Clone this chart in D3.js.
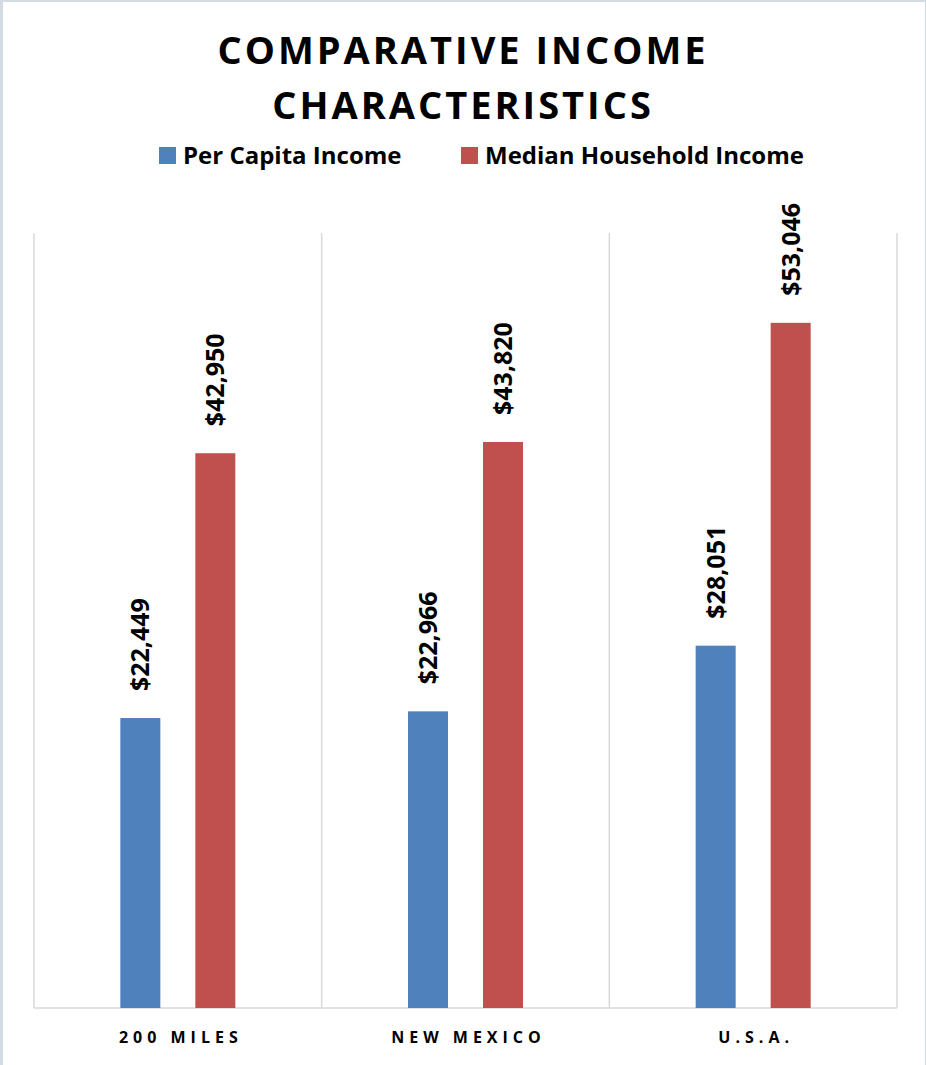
<!DOCTYPE html>
<html><head><meta charset="utf-8">
<script src="https://cdn.jsdelivr.net/npm/d3@7/dist/d3.min.js"></script>
<style>html,body{margin:0;padding:0;background:#fff;}svg{display:block;}</style>
</head><body>
<script>
const categories = ["200 MILES", "NEW MEXICO", "U.S.A."];
const seriesNames = ["Per Capita Income", "Median Household Income"];
const perCapita = [22449, 22966, 28051];
const medianHousehold = [42950, 43820, 53046];
const colors = ["#4F81BD", "#C0504D"];

const W = 926, H = 1065;
const svg = d3.select("body").append("svg").attr("width", W).attr("height", H);

// outer frame
svg.append("rect").attr("x", 0).attr("y", 0).attr("width", W).attr("height", H).attr("fill", "#fff");
svg.append("rect").attr("x", 0).attr("y", 0).attr("width", 3).attr("height", H).attr("fill", "#d3dae1");
svg.append("rect").attr("x", 0).attr("y", 0).attr("width", W).attr("height", 2).attr("fill", "#d3dae1");
svg.append("rect").attr("x", W - 1).attr("y", 0).attr("width", 1).attr("height", H).attr("fill", "#d3dae1");

const plot = {left: 34, right: 897, top: 233, bottom: 1008};

const x0 = d3.scaleBand().domain(categories).range([plot.left, plot.right]).paddingInner(0).paddingOuter(0);
const y = d3.scaleLinear().domain([0, 60000]).range([plot.bottom, plot.top]);

// vertical gridlines at category boundaries
const bounds = categories.map(c => x0(c)).concat([x0(categories[categories.length - 1]) + x0.bandwidth()]);
svg.selectAll("line.grid").data(bounds).enter().append("line")
  .attr("x1", d => d).attr("x2", d => d)
  .attr("y1", plot.top).attr("y2", plot.bottom)
  .attr("stroke", "#d9d9d9").attr("stroke-width", 1.5);
svg.append("line").attr("x1", plot.left).attr("x2", plot.right)
  .attr("y1", plot.bottom).attr("y2", plot.bottom)
  .attr("stroke", "#d9d9d9").attr("stroke-width", 1.5);

const barW = 40, gap = 35;
const data = categories.map((c, i) => ({c, vals: [perCapita[i], medianHousehold[i]]}));

data.forEach(d => {
  const cx = x0(d.c) + x0.bandwidth() / 2;
  d.vals.forEach((v, j) => {
    const bx = cx - (barW * 2 + gap) / 2 + j * (barW + gap);
    svg.append("rect")
      .attr("x", bx).attr("y", y(v))
      .attr("width", barW).attr("height", y(0) - y(v))
      .attr("fill", colors[j]);
    svg.append("text")
      .attr("transform", `translate(${bx + barW / 2 + 9},${y(v) - 27}) rotate(-90)`)
      .attr("text-anchor", "start")
      .attr("font-family", "Open Sans")
      .attr("font-weight", "bold")
      .attr("font-size", 25)
      .attr("fill", "#000")
      .text(d3.format("$,")(v));
  });
});

// x axis labels
svg.selectAll("text.cat").data(categories).enter().append("text")
  .attr("x", d => x0(d) + x0.bandwidth() / 2 + 3)
  .attr("y", 1043)
  .attr("text-anchor", "middle")
  .attr("font-family", "Open Sans")
  .attr("font-weight", "bold")
  .attr("font-size", 16)
  .attr("letter-spacing", 5)
  .attr("fill", "#000")
  .text(d => d);

// title
const title = ["COMPARATIVE INCOME", "CHARACTERISTICS"];
svg.selectAll("text.title").data(title).enter().append("text")
  .attr("x", 463).attr("y", (d, i) => 64 + i * 55)
  .attr("text-anchor", "middle")
  .attr("font-family", "Open Sans")
  .attr("font-weight", "bold")
  .attr("font-size", 38)
  .attr("letter-spacing", 3)
  .attr("fill", "#000")
  .text(d => d);

// legend
const legendX = [159, 461];
seriesNames.forEach((s, i) => {
  svg.append("rect").attr("x", legendX[i]).attr("y", 147).attr("width", 17).attr("height", 17).attr("fill", colors[i]);
  svg.append("text").attr("x", legendX[i] + 24).attr("y", 164)
    .attr("font-family", "Open Sans").attr("font-weight", "bold").attr("font-size", 24)
    .attr("fill", "#000").text(s);
});
</script>
</body></html>
